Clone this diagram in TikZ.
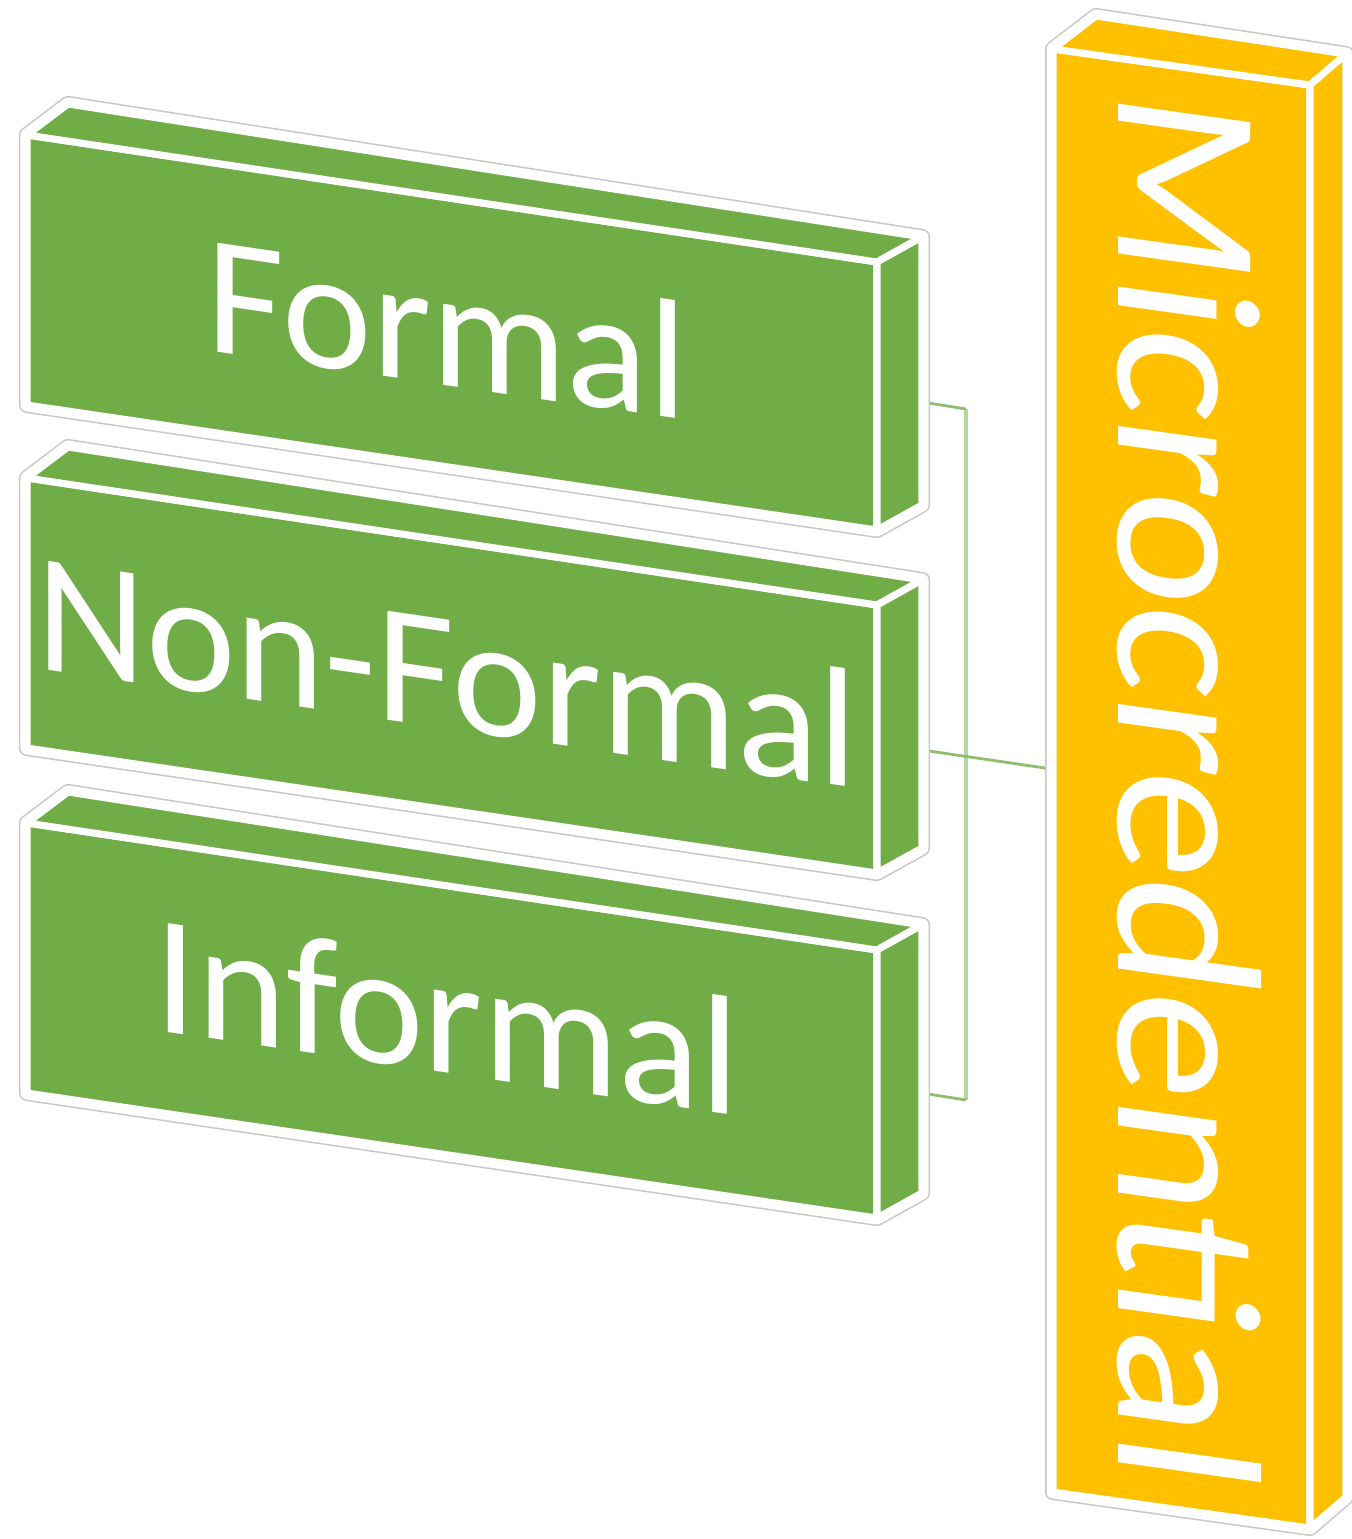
\documentclass[tikz,border=0pt]{standalone}
\usepackage{fontspec}
\newfontfamily\carlito{Carlito}
\definecolor{boxgreen}{HTML}{70AD47}
\definecolor{boxyellow}{HTML}{FFC000}
\definecolor{busgreen}{HTML}{B5D7A0}
\definecolor{stubgreen}{HTML}{8DBF6E}
\definecolor{haze}{HTML}{C8C8C8}
\tikzset{
  halo/.style={draw=haze, line width=4.6pt, line join=round},
  ring/.style={draw=white, line width=3.7pt, line join=round},
  face/.style={draw=white, line width=2pt, line join=round},
  greenlbl/.style={text=white, inner sep=0pt, font=\carlito\fontsize{48.3pt}{50pt}\selectfont},
  yellowlbl/.style={text=white, inner sep=0pt, font=\carlito\fontsize{58.6pt}{60pt}\selectfont},
  bus/.style={draw=busgreen, line width=1.3pt},
  stub/.style={draw=stubgreen, line width=0.8pt},
}
\newcommand\greenbox[3]{%
  \coordinate (#1-TL) at (27,#2);
  \coordinate (#1-TR) at (877,{#2+127});
  \coordinate (#1-BR) at (877,{#2+395});
  \coordinate (#1-BL) at (27,{#2+270});
  \coordinate (#1-bTL) at (68,{#2-31});
  \coordinate (#1-bTR) at (922,{#2+102});
  \coordinate (#1-bBR) at (922,{#2+370});
  \path[halo] (#1-TL) -- (#1-bTL) -- (#1-bTR) -- (#1-bBR) -- (#1-BR) -- (#1-BL) -- cycle;
  \path[ring] (#1-TL) -- (#1-bTL) -- (#1-bTR) -- (#1-bBR) -- (#1-BR) -- (#1-BL) -- cycle;
  \path[face, fill=boxgreen] (#1-TL) -- (#1-TR) -- (#1-BR) -- (#1-BL) -- cycle;
  \path[face, fill=boxgreen] (#1-TL) -- (#1-bTL) -- (#1-bTR) -- (#1-TR) -- cycle;
  \path[face, fill=boxgreen] (#1-TR) -- (#1-bTR) -- (#1-bBR) -- (#1-BR) -- cycle;
  \begin{scope}[shift={(447,{#2+192})}, yslant=-0.147]
    \node[greenlbl, transform shape] (#1-text) at (0,0) {#3};
  \end{scope}
}
\begin{document}
\begin{tikzpicture}[x=0.01cm, y=-0.01cm]
\useasboundingbox (0,0) rectangle (1351,1539);

% connection points
\coordinate (f-out) at (922,402);
\coordinate (nf-out) at (922,750);
\coordinate (inf-out) at (922,1093);
\coordinate (bus-top) at (966,409);
\coordinate (bus-bot) at (966,1100);
\coordinate (mc-in) at (1045,768);

% connectors
\draw[bus] (bus-top) -- (bus-bot);
\draw[stub] (f-out) -- (bus-top);
\draw[stub] (inf-out) -- (bus-bot);
\draw[stub] (nf-out) -- (mc-in);

% green boxes
\greenbox{f}{135}{Formal}
\greenbox{nf}{478}{Non-Formal}
\greenbox{inf}{823}{Informal}

% yellow box
\coordinate (m-TL) at (1053,49);
\coordinate (m-TR) at (1310,85);
\coordinate (m-BR) at (1310,1528);
\coordinate (m-BL) at (1053,1492);
\coordinate (m-bTL) at (1096,16);
\coordinate (m-bTR) at (1346,54);
\coordinate (m-bBR) at (1346,1497);
\path[halo] (m-TL) -- (m-bTL) -- (m-bTR) -- (m-bBR) -- (m-BR) -- (m-BL) -- cycle;
\path[ring] (m-TL) -- (m-bTL) -- (m-bTR) -- (m-bBR) -- (m-BR) -- (m-BL) -- cycle;
\path[face, fill=boxyellow] (m-TL) -- (m-TR) -- (m-BR) -- (m-BL) -- cycle;
\path[face, fill=boxyellow] (m-TL) -- (m-bTL) -- (m-bTR) -- (m-TR) -- cycle;
\path[face, fill=boxyellow] (m-TR) -- (m-bTR) -- (m-bBR) -- (m-BR) -- cycle;
\begin{scope}[shift={(1189,792)}, yslant=-0.14]
  \node[yellowlbl, transform shape, rotate=-90, xscale=1.05] (m-text) at (0,0) {Microcredential};
\end{scope}
\end{tikzpicture}
\end{document}
